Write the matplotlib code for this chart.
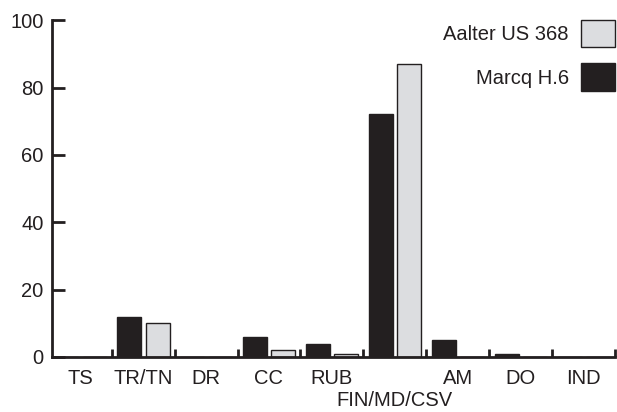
import numpy as np
import matplotlib
matplotlib.use('Agg')
import matplotlib.pyplot as plt
import matplotlib.transforms as mtransforms

plt.rcParams['font.family'] = ['Liberation Sans', 'DejaVu Sans']
plt.rcParams['text.color'] = '#231f20'

# categories and percentages
categories = ['TS', 'TR/TN', 'DR', 'CC', 'RUB', 'FIN/MD/CSV', 'AM', 'DO', 'IND']
marcq = [0, 12, 0, 6, 4, 72, 5, 1, 0]
aalter = [0, 10, 0, 2, 1, 87, 0, 0, 0]

x = np.arange(len(categories))
width = 0.38
dark = '#231f20'
fs = 14.5

fig = plt.figure(figsize=(6.17, 4.12), dpi=100)
ax = fig.add_axes([0.084, 0.1335, 0.913, 0.8175])

b1 = ax.bar(x - 0.22, marcq, width, color=dark, edgecolor=dark, linewidth=1, label='Marcq H.6')
b2 = ax.bar(x + 0.23, aalter, width, color='#dcdde0', edgecolor=dark, linewidth=1, label='Aalter US 368')

ax.set_xlim(-0.45, 8.5)
ax.set_ylim(0, 100)
ax.set_yticks(np.arange(0, 101, 20))

#labels at the centres, the long one goes on a second row
ax.set_xticks(x)
ax.set_xticklabels([c if c != 'FIN/MD/CSV' else '' for c in categories])
trans = mtransforms.blended_transform_factory(ax.transData, ax.transAxes)
ax.text(5, -0.13, 'FIN/MD/CSV', transform=trans, ha='center', va='center', fontsize=fs)

ax.set_xticks(x + 0.5, minor=True)
ax.tick_params(axis='x', which='major', length=0, pad=9, labelsize=fs, labelcolor=dark)
ax.tick_params(axis='x', which='minor', direction='in', length=6, width=2, color=dark)
ax.tick_params(axis='y', direction='in', length=9, width=2, labelsize=fs, pad=6, color=dark, labelcolor=dark)

for s in ['top', 'right']:
    ax.spines[s].set_visible(False)
for s in ['left', 'bottom']:
    ax.spines[s].set_linewidth(2)
    ax.spines[s].set_color(dark)

ax.legend([b2, b1], ['Aalter US 368', 'Marcq H.6'], loc='upper right', bbox_to_anchor=(1.0, 1.0),
          frameon=False, markerfirst=False, fontsize=fs, handlelength=1.7, handleheight=1.7,
          labelspacing=0.8, handletextpad=0.6, borderaxespad=0, borderpad=0)

plt.savefig('out.png', dpi=100)
